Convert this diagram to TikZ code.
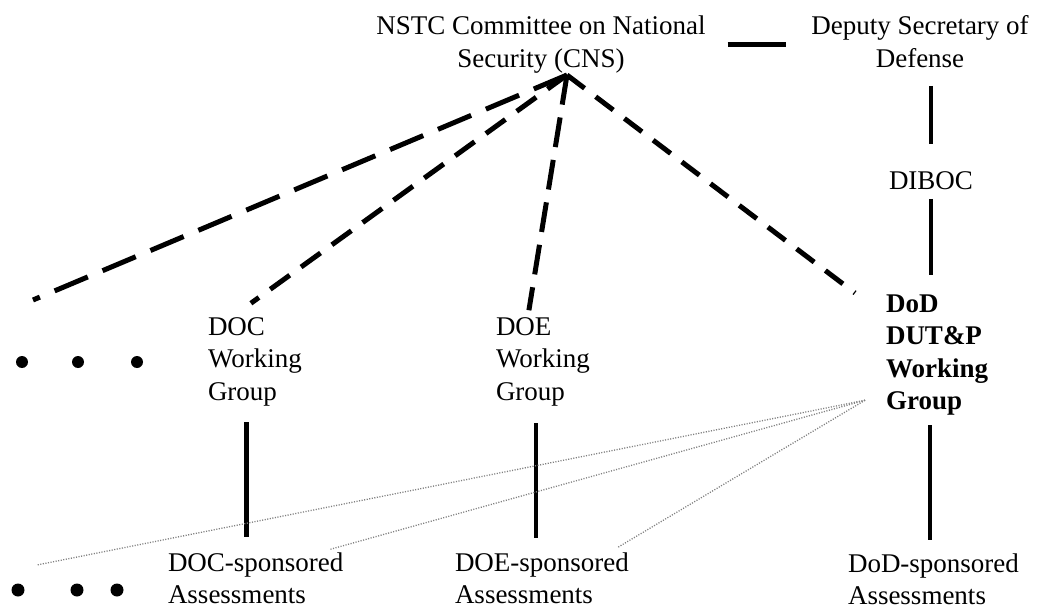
\documentclass[tikz,border=0pt]{standalone}
\usepackage{fontspec}
\setmainfont{Liberation Serif}
\newcommand\lstackx[1]{\begin{tabular}[t]{@{}l@{}}#1\end{tabular}}
\newcommand\cstackx[1]{\begin{tabular}[t]{@{}c@{}}#1\end{tabular}}
\begin{document}
\begin{tikzpicture}[x=1pt,y=-1pt,
  lbl/.style={inner sep=0pt, outer sep=0pt, font=\fontsize{27}{32.5}\selectfont},
  lblbold/.style={inner sep=0pt, outer sep=0pt, font=\fontsize{27}{32.5}\selectfont\bfseries},
  solidln/.style={line width=4.5pt},
  dashln/.style={line width=5pt, dash pattern=on 24pt off 14pt},
  dotln/.style={line width=1.3pt, black!50, dash pattern=on 1.1pt off 1.5pt},
  bulletdot/.style={fill=black}]
\useasboundingbox (0,0) rectangle (1037,610);

% labels
\node[lbl, anchor=base] (cns) at (541,35) {\cstackx{NSTC Committee on National\\Security (CNS)}};
\node[lbl, anchor=base] (dep) at (920,35) {\cstackx{Deputy Secretary of\\Defense}};
\node[lbl, anchor=base] (diboc) at (931,189) {\cstackx{DIBOC}};
\node[lbl, anchor=base west] (docwg) at (208,335) {\lstackx{DOC\\Working\\Group}};
\node[lbl, anchor=base west] (doewg) at (496,335) {\lstackx{DOE\\Working\\Group}};
\node[lblbold, anchor=base west] (dodwg) at (886,312) {\lstackx{DoD\\DUT\&P\\Working\\Group}};
\node[lbl, anchor=base west] (docsp) at (168,571) {\lstackx{DOC-sponsored\\Assessments}};
\node[lbl, anchor=base west] (doesp) at (455,571) {\lstackx{DOE-sponsored\\Assessments}};
\node[lbl, anchor=base west] (dodsp) at (848,572) {\lstackx{DoD-sponsored\\Assessments}};

% helper coordinates
\coordinate (apex) at ([xshift=26pt,yshift=2.25pt]cns.south);
\coordinate (leftend) at (33,300);
\coordinate (dotend) at (37,565);
\coordinate (grp) at ([xshift=-21pt,yshift=19pt]dodwg.south west);

% dashed connectors from CNS
\draw[dashln, dash pattern=on 36pt off 16pt] (apex) -- (leftend);
\draw[dashln] (apex) -- ([xshift=-4pt,yshift=9pt]docwg.north);
\draw[dashln, dash pattern=on 30pt off 13pt] (apex) -- ([xshift=-14pt,yshift=2pt]doewg.north);
\draw[dashln, dash pattern=on 22pt off 14pt] (apex) -- ([xshift=-31pt,yshift=-3.75pt]dodwg.north west);

% solid connectors
\draw[solidln, shorten <=22pt, shorten >=25.5pt] (cns.east) -- (dep.west);
\draw[solidln, shorten <=8.75pt, shorten >=22.25pt] (diboc.north |- dep.south) -- (diboc.north);
\draw[solidln, shorten >=14.25pt] (diboc.south) -- (diboc.south |- dodwg.north);
\draw[solidln, shorten <=12.25pt, shorten >=11.25pt] ([xshift=-9pt]docsp.north |- docwg.south) -- ([xshift=-9pt]docsp.north);
\draw[solidln, shorten <=13.25pt, shorten >=10.25pt] ([xshift=-6pt]doesp.north |- doewg.south) -- ([xshift=-6pt]doesp.north);
\draw[solidln, shorten <=5.75pt, shorten >=9.25pt] ([xshift=-3.5pt]dodsp.north |- dodwg.south) -- ([xshift=-3.5pt]dodsp.north);

% dotted gray connectors
\draw[dotln] (grp) -- (dotend);
\draw[dotln] (grp) -- ([xshift=-13pt,yshift=-1pt]docsp.north east);
\draw[dotln] (grp) -- ([xshift=-11pt,yshift=1pt]doesp.north east);

% ellipsis dots
\fill[bulletdot] (22,362) circle (6pt);
\fill[bulletdot] (78,362) circle (6pt);
\fill[bulletdot] (137,362) circle (6pt);
\fill[bulletdot] (18,590) circle (6.5pt);
\fill[bulletdot] (77,590) circle (6.5pt);
\fill[bulletdot] (117,590) circle (6.5pt);
\end{tikzpicture}
\end{document}
